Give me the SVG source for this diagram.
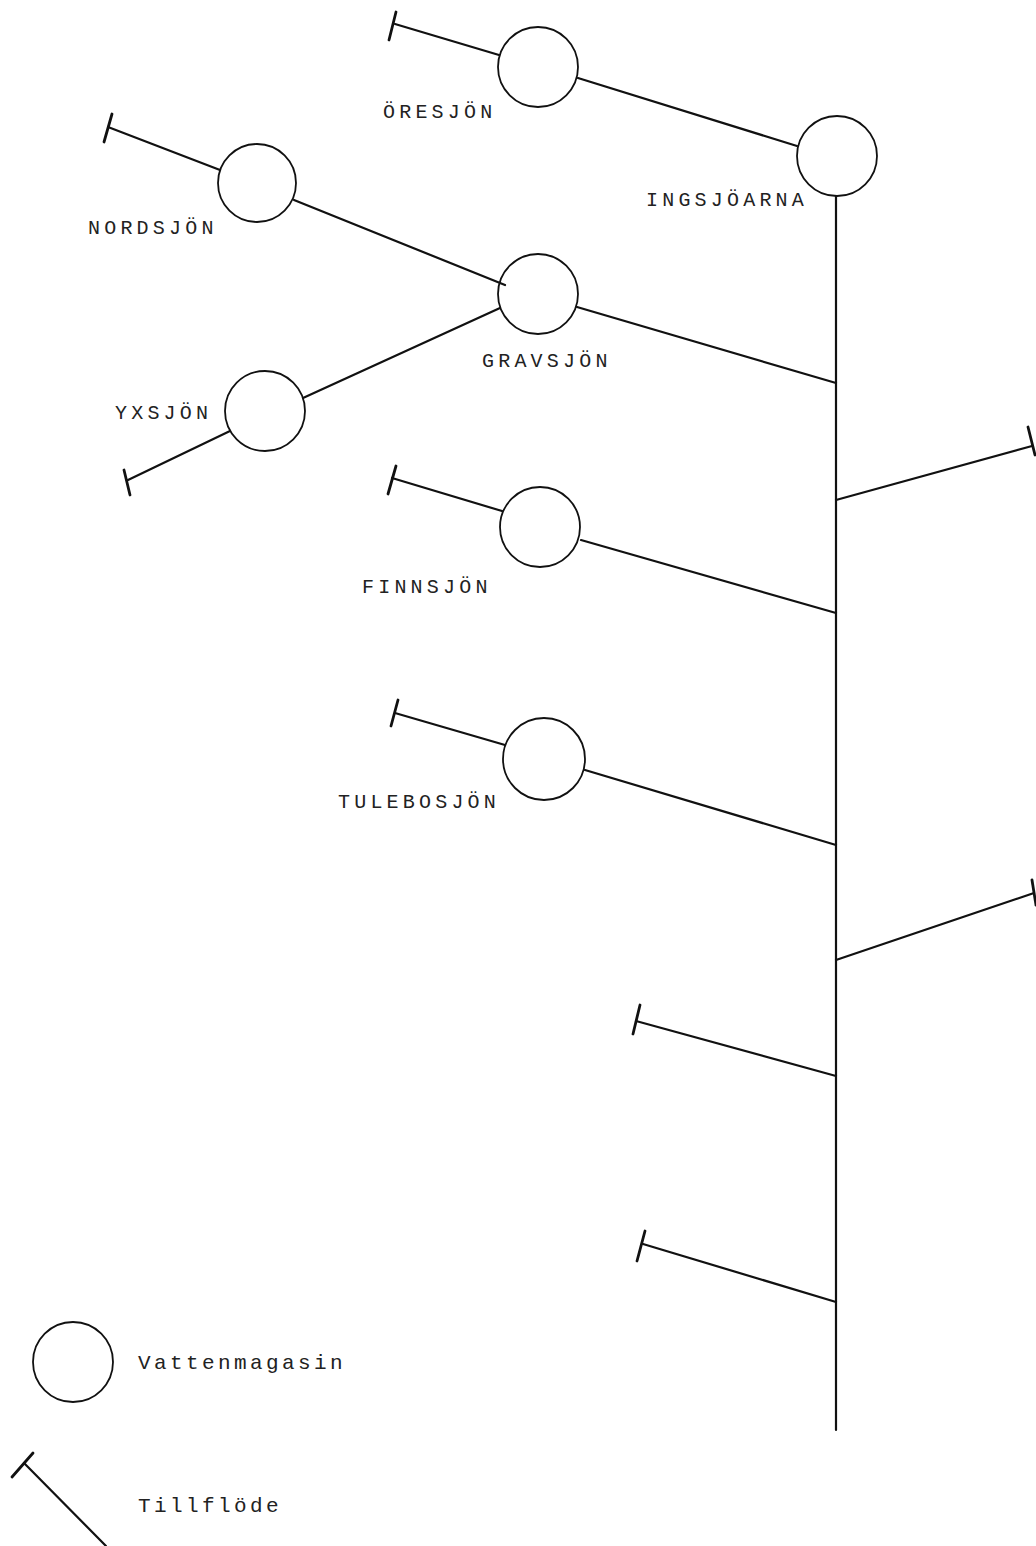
<svg xmlns="http://www.w3.org/2000/svg" width="1036" height="1546" viewBox="0 0 1036 1546">
<style>
.lake{fill:none;stroke:#111;stroke-width:1.8}
.ln{fill:none;stroke:#111;stroke-width:2.2;stroke-linecap:round}
.tk{fill:none;stroke:#111;stroke-width:2.8;stroke-linecap:round}
.lbl{font-family:"Liberation Mono",monospace;font-size:20px;fill:#222;letter-spacing:4.2px}
.leg{font-family:"Liberation Mono",monospace;font-size:21px;fill:#222;letter-spacing:3.4px}
</style>
<rect width="1036" height="1546" fill="#fff"/>
<g id="connectors">
<line class="ln" x1="836" y1="196" x2="836" y2="1430"/>
<line class="ln" x1="395" y1="24" x2="499" y2="55"/><line class="tk" x1="396" y1="12" x2="389" y2="40"/>
<line class="ln" x1="578" y1="78" x2="797" y2="146"/>
<line class="ln" x1="108" y1="127" x2="220" y2="170"/><line class="tk" x1="112" y1="114" x2="104" y2="142"/>
<line class="ln" x1="294" y1="200" x2="505" y2="285"/>
<line class="ln" x1="303" y1="398" x2="500" y2="308"/>
<line class="ln" x1="230" y1="431" x2="128" y2="480"/><line class="tk" x1="124" y1="470" x2="130" y2="495"/>
<line class="ln" x1="577" y1="307" x2="836" y2="383"/>
<line class="ln" x1="836" y1="500" x2="1032" y2="446"/><line class="tk" x1="1028" y1="427" x2="1035" y2="455"/>
<line class="ln" x1="392" y1="478" x2="502" y2="511"/><line class="tk" x1="396" y1="466" x2="388" y2="494"/>
<line class="ln" x1="581" y1="540" x2="836" y2="613"/>
<line class="ln" x1="395" y1="713" x2="505" y2="745"/><line class="tk" x1="398" y1="700" x2="391" y2="726"/>
<line class="ln" x1="585" y1="770" x2="836" y2="845"/>
<line class="ln" x1="836" y1="960" x2="1034" y2="893"/><line class="tk" x1="1032" y1="880" x2="1036" y2="905"/>
<line class="ln" x1="636" y1="1021" x2="836" y2="1076"/><line class="tk" x1="640" y1="1005" x2="633" y2="1034"/>
<line class="ln" x1="643" y1="1244" x2="836" y2="1302"/><line class="tk" x1="645" y1="1231" x2="637" y2="1261"/>
</g>
<g id="oresjon"><circle class="lake" cx="538" cy="67" r="40"/><text class="lbl" x="383" y="118">ÖRESJÖN</text></g>
<g id="ingsjoarna"><circle class="lake" cx="837" cy="156" r="40"/><text class="lbl" x="646" y="206">INGSJÖARNA</text></g>
<g id="nordsjon"><circle class="lake" cx="257" cy="183" r="39"/><text class="lbl" x="88" y="234">NORDSJÖN</text></g>
<g id="gravsjon"><circle class="lake" cx="538" cy="294" r="40"/><text class="lbl" x="482" y="367">GRAVSJÖN</text></g>
<g id="yxsjon"><circle class="lake" cx="265" cy="411" r="40"/><text class="lbl" x="115" y="419">YXSJÖN</text></g>
<g id="finnsjon"><circle class="lake" cx="540" cy="527" r="40"/><text class="lbl" x="362" y="593">FINNSJÖN</text></g>
<g id="tulebosjon"><circle class="lake" cx="544" cy="759" r="41"/><text class="lbl" x="338" y="808">TULEBOSJÖN</text></g>
<g id="legend-lake"><circle class="lake" cx="73" cy="1362" r="40"/><text class="leg" x="138" y="1369">Vattenmagasin</text></g>
<g id="legend-inflow"><line class="ln" x1="24" y1="1463" x2="106" y2="1546"/><line class="tk" x1="12" y1="1477" x2="33" y2="1453"/><text class="leg" x="138" y="1512">Tillflöde</text></g>
</svg>
